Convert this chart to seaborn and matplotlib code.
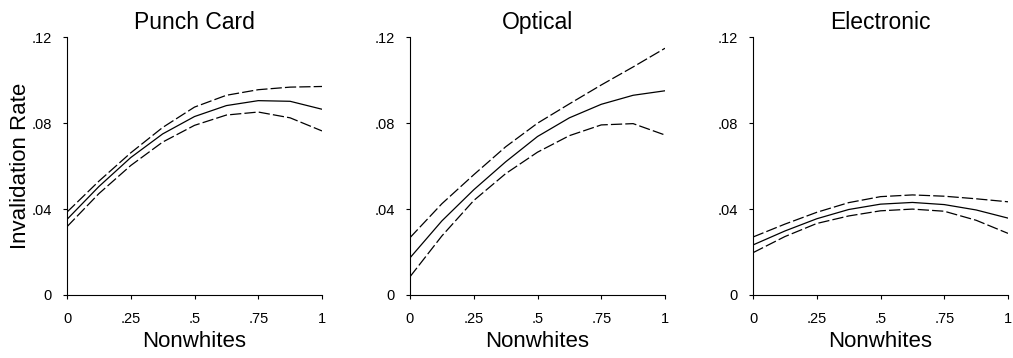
import numpy as np
import pandas as pd
import matplotlib.pyplot as plt
import seaborn as sns

# Values (predicted invalidation rate and CI bands)
nonwhites = [0, .125, .25, .375, .5, .625, .75, .875, 1]

panels = ["Punch Card", "Optical", "Electronic"]

punch_fit = [.0352, .0505, .0640, .0750, .0831, .0882, .0905, .0902, .0865]
punch_hi = [.0386, .0530, .0662, .0780, .0875, .0930, .0956, .0968, .0971]
punch_lo = [.0318, .0472, .0603, .0712, .0790, .0838, .0852, .0825, .0764]

optical_fit = [.0173, .0345, .0490, .0620, .0738, .0825, .0888, .0930, .0951]
optical_hi = [.0267, .0425, .0560, .0690, .0800, .0890, .0978, .1062, .1149]
optical_lo = [.0085, .0275, .0440, .0565, .0665, .0742, .0792, .0798, .0745]

electronic_fit = [.0233, .0298, .0355, .0398, .0423, .0431, .0421, .0396, .0358]
electronic_hi = [.0270, .0330, .0385, .0430, .0458, .0466, .0460, .0448, .0434]
electronic_lo = [.0197, .0272, .0333, .0368, .0392, .0400, .0390, .0348, .0287]

fits = [punch_fit, optical_fit, electronic_fit]
his = [punch_hi, optical_hi, electronic_hi]
los = [punch_lo, optical_lo, electronic_lo]

x_ticks = [0, .25, .5, .75, 1]
x_labels = ["0", ".25", ".5", ".75", "1"]
y_ticks = [0, .04, .08, .12]
y_labels = ["0", ".04", ".08", ".12"]

sns.set_theme(style="ticks")
plt.rcParams["font.family"] = ["Liberation Sans", "DejaVu Sans"]
plt.rcParams["text.color"] = "black"
plt.rcParams["axes.labelcolor"] = "black"

fig = plt.figure(figsize=(10.13, 3.58), dpi=100)
lefts = [67, 410, 753]
dash = (0, (9, 2.5))

for i, name in enumerate(panels):
    ax = fig.add_axes([lefts[i] / 1013, 0.176, 255 / 1013, 0.7198])
    sns.lineplot(x=nonwhites, y=fits[i], ax=ax, color="black", lw=0.9)
    sns.lineplot(x=nonwhites, y=his[i], ax=ax, color="black", lw=0.9,
                 linestyle=dash)
    sns.lineplot(x=nonwhites, y=los[i], ax=ax, color="black", lw=0.9,
                 linestyle=dash)

    ax.set_xlim(0, 1)
    ax.set_ylim(0, .12)
    ax.set_xticks(x_ticks)
    ax.set_xticklabels(x_labels)
    ax.set_yticks(y_ticks)
    ax.set_yticklabels(y_labels)
    ax.tick_params(axis="x", length=3, width=0.8, pad=9, labelsize=10.5,
                   colors="black")
    ax.tick_params(axis="y", length=3, width=0.8, pad=8, labelsize=10.5,
                   colors="black")
    for side in ["top", "right"]:
        ax.spines[side].set_visible(False)
    for side in ["left", "bottom"]:
        ax.spines[side].set_color("black")
        ax.spines[side].set_linewidth(0.8)

    ax.set_title(name, fontsize=16.5, pad=6, color="black")
    ax.set_xlabel("Nonwhites", fontsize=16, labelpad=4)
    if i == 0:
        ax.set_ylabel("Invalidation Rate", fontsize=16, labelpad=0)
    else:
        ax.set_ylabel("")

plt.savefig("out.png", dpi=100)
